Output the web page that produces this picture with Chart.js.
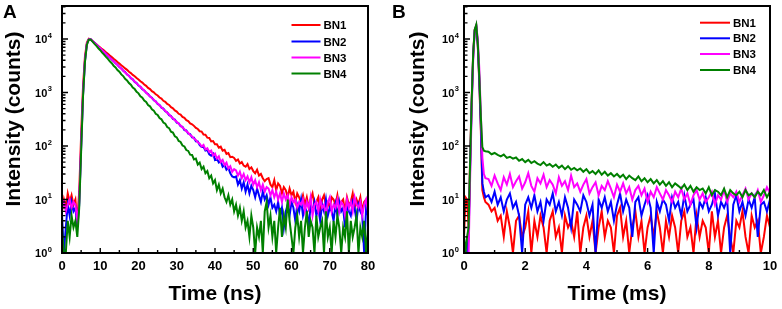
<!DOCTYPE html>
<html>
<head>
<meta charset="utf-8">
<title>Decay curves BN1-BN4</title>
<script src="https://cdn.jsdelivr.net/npm/chart.js@4.4.1/dist/chart.umd.min.js"></script>
<style>
  body { margin: 0; background: #fff; }
  .wrap { display: flex; width: 782px; height: 309px; }
</style>
</head>
<body>
<div class="wrap">
  <canvas id="panelA" width="390" height="309"></canvas>
  <canvas id="panelB" width="392" height="309"></canvas>
</div>
<script>
const seriesNames = ['BN1', 'BN2', 'BN3', 'BN4'];
const seriesColors = ['#ff0000', '#0000ff', '#ff00ff', '#008000'];

// A: one channel every 0.5 ns, 0..80 ns
const stepA = 0.5;
const bn1A = [6,10,7,13,9,12,8,10, 4,14,160,1300,4700,8600,10100,9800,
  9180,8520,7990,7420,6960,6470,6070,5620,5290,4900,
  4600,4260,4010,3720,3490,3240,3040,2820,2650,2440,
  2310,2130,2010,1860,1750,1620,1530,1410,1330,1220,
  1160,1060,1010,925,880,805,770,700,670,610,
  585,530,508,462,440,400,385,350,335,305,
  292,265,255,
  238,218,208,189,186,163,162,143,141,122,124,108,108,93,97,82,85,71,74,62,63,
  60,53,56,47,50,43,41,46,37,40,34,31,36,28,30,25,22,24,
  25,19,17,23,15,20,18,13,17,15,11,16,12,14,9,13,11,
  9,12,8,11,7,10,13,8,9,11,6,10,12,8,9,7,11,10,8,12,7,9,10,6,11,8,9,13,7,10,8,11,6,9,10,7];
const bn2A = [5,1,3,8,5,9,6,7, 3,8,90,900,3900,8000,9800,9900,
  9120,8480,7780,7250,6640,6190,5660,5290,4830,4520,
  4120,3860,3510,3300,2990,2820,2550,2410,2170,2060,
  1850,1760,1580,1500,1350,1280,1150,1095,985,935,
  840,800,715,683,610,584,520,499,445,426,
  378,364,322,311,274,266,234,228,199,195,
  170,167,145,143,123,122,104,
  96,97,82,84,70,66,72,55,58,49,52,41,44,36,39,31,27,26,
  27,19,23,16,21,14,19,13,18,15,11,16,12,9,14,10,12,8,11,7,
  8,6,9,5,7,3,6,8,5,9,
  7,4,8,6,10,5,7,6,3,8,
  6,9,5,7,4,8,6,10,5,7,
  6,4,8,5,9,6,7,3,8,6,
  5,9,7,4,8,6,5,1,7,5];
const bn3A = [7,9,6,8,10,7,9,8, 4,9,100,950,4000,8100,9800,9900,
  9150,8430,7830,7200,6690,6150,5710,5240,4880,4480,
  4160,3820,3550,3260,3030,2780,2590,2370,2210,2030,
  1890,1730,1610,1480,1375,1260,1175,1080,1000,920,
  855,785,730,670,625,572,532,489,455,418,
  388,356,331,304,283,260,242,222,207,189,
  177,161,151,138,129,117,110,
  98,105,86,91,77,82,66,72,58,64,50,55,44,49,38,42,33,37,
  35,28,33,25,30,23,27,21,26,19,23,17,21,15,19,14,17,
  16,12,15,11,14,10,13,9,13,10,12,8,11,9,10,7,9,
  8,10,6,9,7,11,5,8,9,6,10,7,8,5,9,11,6,8,7,10,6,9,8,5,10,7,9,6,11,8,7,9,5,8,10,6];
const bn4A = [3,1,1,4,2,5,3,4, 2,7,80,850,3700,7800,9700,9800,
  8950,8100,7440,6720,6170,5570,5120,4620,4250,3830,
  3530,3170,2940,2630,2440,2180,2030,1800,1680,1500,
  1395,1240,1160,1030,965,850,800,705,665,585,
  552,484,459,401,381,332,316,
  275,262,226,216,185,178,152,145,124,119,
  102,98,84,81,69,68,56,58,45,49,
  37,41,31,34,25,28,20,23,15,19,
  13,16,11,9,12,8,10,6,8,5,
  7,4,6,3,4,2,5,3,
  1,3,2,4,1,6,9,3,5,2,
  4,1,3,7,2,5,3,10,4,2,
  1,3,5,2,4,1,3,6,2,4,
  3,1,5,2,3,4,1,6,2,3,
  1,4,2,5,3,1,3,2,6,1,
  4,2,3,5,1,3,2,4,1,3];

// B: times in ms (finer around the excitation peak)
const timeB = [0,0.05,0.1,0.15,0.2,0.25,0.3,0.35,0.4,0.45,0.5,0.55,0.6,0.65,0.7,
  0.8,0.9,1,1.1,1.2,1.3,1.4,1.5,1.6,1.7,1.8,1.9,2,2.1,2.2,2.3,2.4,2.5,2.6,2.7,2.8,2.9,
  3,3.1,3.2,3.3,3.4,3.5,3.6,3.7,3.8,3.9,4,4.1,4.2,4.3,4.4,4.5,4.6,4.7,4.8,4.9,
  5,5.1,5.2,5.3,5.4,5.5,5.6,5.7,5.8,5.9,6,6.1,6.2,6.3,6.4,6.5,6.6,6.7,6.8,6.9,
  7,7.1,7.2,7.3,7.4,7.5,7.6,7.7,7.8,7.9,8,8.1,8.2,8.3,8.4,8.5,8.6,8.7,8.8,8.9,
  9,9.1,9.2,9.3,9.4,9.5,9.6,9.7,9.8,9.9,10];
const bn1B = [2,11,10,3,60,700,5500,15000,17500,7500,1500,200,15,11,9,
  8,6,7,4,5,2,6,3,1,4,
  5,2,3,6,1,4,2,5,3,1,
  4,6,2,3,1,5,3,4,2,6,
  1,3,5,2,4,1,3,6,2,4,
  3,1,5,7,2,4,1,3,6,2,
  4,1,3,5,2,6,3,1,4,2,
  5,3,1,4,6,2,3,1,5,2,
  4,3,1,6,2,4,1,3,5,2,
  1,4,3,6,2,1,5,3,4,1,2,5,3];
const bn2B = [1,1,1,2,40,600,5000,14500,17500,8000,1700,250,20,14,11,
  12,9,14,8,11,6,10,13,7,9,
  5,1,8,11,7,12,6,9,4,10,
  8,13,6,9,5,11,7,3,10,8,
  6,12,9,5,8,1,10,7,11,6,
  9,4,8,13,6,10,7,2,9,11,
  5,8,12,7,1,9,6,10,8,4,
  11,7,9,5,12,6,8,10,3,9,
  7,11,6,8,13,5,9,7,10,1,
  8,12,6,9,5,10,7,11,2,8,9,6,10];
const bn3B = [1,1,1,1,25,450,4200,14000,18000,10000,2800,400,60,30,25,
  24,18,28,20,15,26,19,30,17,22,
  27,16,21,31,18,14,25,20,29,17,
  23,19,13,26,18,22,15,28,17,20,
  14,19,24,13,17,21,12,18,15,22,
  16,11,19,14,20,13,17,10,15,18,
  12,16,9,14,11,17,13,10,15,12,
  9,14,11,16,10,13,8,12,15,10,
  13,9,11,14,8,12,10,15,9,13,
  11,14,9,12,16,10,13,11,15,9,12,17,13];
const bn4B = [2,1,2,3,50,650,5200,15000,18500,8500,2000,350,95,82,80,
  78,70,74,68,64,69,60,63,58,61,
  53,57,50,55,48,52,47,44,50,43,
  46,41,45,39,43,37,42,36,39,35,
  38,33,37,31,34,30,35,29,33,28,
  31,27,30,26,29,24,28,25,23,27,
  22,25,21,24,20,23,19,22,18,21,
  17,20,18,16,19,15,18,14,17,15,
  16,13,17,12,15,14,12,16,11,15,
  13,12,14,11,15,12,13,11,14,12,
  15,11,14];

const xTicksA = [0, 10, 20, 30, 40, 50, 60, 70, 80];
const xTicksB = [0, 2, 4, 6, 8, 10];
const yDecades = [1, 10, 100, 1000, 10000];
const yMax = 41400;

const timeA = bn1A.map((v, i) => i * stepA);

const FONT = '"Liberation Sans", Arial, sans-serif';

function pts(xs, ys) {
  return ys.map((y, i) => ({ x: xs[i], y: y }));
}

function decoPlugin(lay) {
  return {
    id: 'deco',
    afterDraw(chart) {
      const ctx = chart.ctx, a = chart.chartArea;
      const xs = chart.scales.x, ys = chart.scales.y;
      ctx.save();
      ctx.strokeStyle = '#000';
      ctx.fillStyle = '#000';

      // inward ticks, left and bottom
      ctx.lineWidth = 1.4;
      ctx.beginPath();
      yDecades.forEach(dec => {
        for (let k = 1; k <= 9; k++) {
          const v = k * dec;
          if (v > yMax) break;
          const y = ys.getPixelForValue(v);
          ctx.moveTo(a.left, y);
          ctx.lineTo(a.left + (k === 1 ? 6 : 3.5), y);
        }
      });
      for (let v = xs.min; v <= xs.max + 1e-9; v += lay.xMinor) {
        const x = xs.getPixelForValue(v);
        const major = lay.xTicks.includes(Math.round(v * 100) / 100);
        ctx.moveTo(x, a.bottom);
        ctx.lineTo(x, a.bottom - (major ? 5 : 3));
      }
      ctx.stroke();

      ctx.lineWidth = 2;
      ctx.strokeRect(a.left, a.top, a.right - a.left, a.bottom - a.top);

      // y tick labels 10^n
      yDecades.forEach((dec, n) => {
        const y = ys.getPixelForValue(dec);
        ctx.font = 'bold 11px ' + FONT;
        const w1 = ctx.measureText('10').width;
        ctx.font = 'bold 7.5px ' + FONT;
        const w2 = ctx.measureText(String(n)).width;
        const x0 = lay.yLabelRight - w1 - w2 - 0.5;
        ctx.font = 'bold 11px ' + FONT;
        ctx.textAlign = 'left';
        ctx.fillText('10', x0, y + 4);
        ctx.font = 'bold 7.5px ' + FONT;
        ctx.fillText(String(n), x0 + w1 + 0.5, y - 1.5);
      });

      // x tick labels
      ctx.font = 'bold 13px ' + FONT;
      ctx.textAlign = 'center';
      lay.xTicks.forEach(v => {
        ctx.fillText(String(v), xs.getPixelForValue(v), 270);
      });

      // axis titles
      ctx.font = 'bold 21px ' + FONT;
      ctx.fillText(lay.xTitle, (a.left + a.right) / 2, 300);
      ctx.save();
      ctx.translate(lay.yTitleX, 119);
      ctx.rotate(-Math.PI / 2);
      ctx.fillText('Intensity (counts)', 0, 0);
      ctx.restore();

      // panel letter
      ctx.textAlign = 'left';
      ctx.font = 'bold 19px ' + FONT;
      ctx.fillText(lay.letter, lay.letterX, 18);

      // legend
      ctx.font = 'bold 11.5px ' + FONT;
      seriesNames.forEach((name, i) => {
        const y = lay.legendY[i];
        ctx.strokeStyle = seriesColors[i];
        ctx.lineWidth = 2;
        ctx.beginPath();
        ctx.moveTo(lay.legendX[0], y);
        ctx.lineTo(lay.legendX[1], y);
        ctx.stroke();
        ctx.fillText(name, lay.legendX[2], y + 4);
      });
      ctx.restore();
    }
  };
}

function makeChart(id, xs, ys, xMax, yAxisWidth, padRight, lay) {
  const datasets = seriesNames.map((name, i) => ({
    label: name,
    data: pts(xs, ys[i]),
    borderColor: seriesColors[i],
    borderWidth: 2,
    pointRadius: 0,
    tension: 0,
    order: 4 - i
  }));
  return new Chart(document.getElementById(id), {
    type: 'line',
    data: { datasets: datasets },
    options: {
      responsive: false,
      animation: false,
      events: [],
      layout: { padding: { left: 0, right: padRight, top: 6, bottom: 0 } },
      plugins: { legend: { display: false }, tooltip: { enabled: false } },
      scales: {
        x: {
          type: 'linear', min: 0, max: xMax,
          grid: { display: false }, border: { display: false },
          ticks: { display: false },
          afterFit: s => { s.height = 56; }
        },
        y: {
          type: 'logarithmic', min: 1, max: yMax,
          grid: { display: false }, border: { display: false },
          ticks: { display: false },
          afterFit: s => { s.width = yAxisWidth; }
        }
      }
    },
    plugins: [decoPlugin(lay)]
  });
}

makeChart('panelA', timeA, [bn1A, bn2A, bn3A, bn4A], 80, 62, 22, {
  letter: 'A', letterX: 3, xTitle: 'Time (ns)', xTicks: xTicksA, xMinor: 5,
  yLabelRight: 52, yTitleX: 20,
  legendX: [291.5, 320.5, 323.5], legendY: [25, 41.5, 57.5, 73.5]
});

makeChart('panelB', timeB, [bn1B, bn2B, bn3B, bn4B], 10, 74, 12, {
  letter: 'B', letterX: 2, xTitle: 'Time (ms)', xTicks: xTicksB, xMinor: 1,
  yLabelRight: 69, yTitleX: 34,
  legendX: [310, 340, 343], legendY: [22.7, 38.3, 54, 70]
});
</script>
</body>
</html>
